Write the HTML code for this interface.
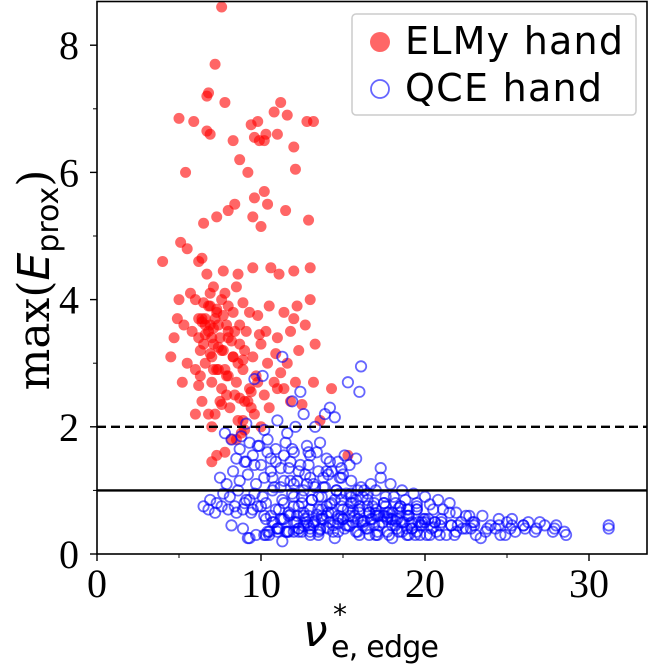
<!DOCTYPE html>
<html><head><meta charset="utf-8"><style>
html,body{margin:0;padding:0;background:#fff;}
</style></head><body>
<svg id="chart" width="650" height="664" xmlns="http://www.w3.org/2000/svg" style="position:absolute;left:0;top:0">
<g id="marks"></g>
<g id="axes"></g>
</svg>
<script>
const xTicks=[0,10,20,30];
const yTicks=[0,2,4,6,8];
const hLines=[{y:2,dash:true},{y:1,dash:false}];
const elmyX=[7.6,7.2,6.8,6.7,7.8,5.0,5.9,6.9,6.7,8.3,9.4,9.8,10.3,10.8,11.0,11.2,11.6,12.8,13.2,12.0,9.6,9.9,10.2,8.7,9.2,12.1,5.4,10.2,11.5,8.4,8.0,9.5,10.0,7.3,6.5,12.9,9.6,10.4,4.0,5.1,5.5,6.2,6.4,6.7,7.7,8.6,9.5,10.6,11.1,12.0,13.0,5.7,6.0,6.5,6.9,7.3,7.6,8.0,8.3,8.9,9.3,9.8,10.5,11.4,12.0,12.7,4.7,5.3,5.8,6.2,6.5,6.8,7.1,7.4,7.7,8.0,8.3,8.7,9.1,9.5,10.0,10.4,11.0,11.6,12.3,13.3,5.5,6.0,6.3,6.6,7.0,7.3,7.6,8.0,8.5,8.9,9.3,9.7,10.2,10.8,11.4,12.1,13.2,14.3,5.2,6.4,6.8,7.2,7.6,8.1,8.6,9.0,9.6,10.5,11.8,6.0,7.0,8.2,7.3,7.0,8.8,13.6,15.3,6.9,7.2,7.5,7.9,8.4,6.6,7.0,6.3,7.8,8.6,9.0,12.2,13.0,11.8,5.0,4.9,4.5,6.6,7.1,7.4,6.2,8.2,6.9,7.7,8.9,9.9,10.9,6.4,7.9,8.7,9.4,11.2,12.5,6.2,6.6,7.0,7.3,7.6,8.0,8.3,8.7,6.8,7.4,7.9,8.4,9.2,9.8,10.3,6.4,7.1,7.8,8.5,6.9,7.5,8.9,9.4,10.0,11.0,7.1,8.5,7.8,9.0];
const elmyY=[8.6,7.7,7.25,7.2,7.1,6.85,6.8,6.6,6.65,6.5,6.75,6.8,6.6,6.95,6.6,7.1,6.9,6.8,6.8,6.4,6.55,6.5,6.5,6.2,6.0,6.05,6.0,5.7,5.4,5.5,5.4,5.3,5.15,5.3,5.2,5.25,5.6,5.5,4.6,4.9,4.8,4.6,4.65,4.4,4.45,4.4,4.5,4.5,4.4,4.45,4.5,4.1,4.0,3.95,3.9,3.85,4.0,3.9,3.8,3.95,3.8,3.75,3.9,3.8,3.7,3.6,3.4,3.6,3.5,3.4,3.3,3.5,3.3,3.6,3.2,3.4,3.1,3.3,3.5,3.1,3.3,3.0,3.4,3.0,3.2,3.3,3.0,2.9,2.8,3.0,2.7,2.9,2.6,2.8,2.7,2.9,2.6,2.8,2.5,2.7,2.6,2.7,2.7,2.6,2.7,2.4,2.2,2.2,2.35,2.3,2.1,2.4,2.2,2.3,2.4,2.2,2.0,1.8,1.55,1.45,1.9,2.1,1.55,3.6,3.7,3.4,3.6,3.5,3.7,3.1,3.2,2.9,3.0,3.2,3.9,4.0,3.5,4.0,3.7,3.1,3.45,3.55,3.25,3.7,3.35,3.15,3.75,3.05,3.45,3.15,3.65,2.5,2.45,2.55,2.85,2.35,2.65,3.6,3.4,3.8,3.2,3.5,3.1,3.6,3.9,2.9,2.8,2.5,2.4,2.7,3.5,3.7,4.2,4.1,4.2,4.1,2.4,2.1,2.3,2.0,2.6,2.9,1.8,1.6,1.95,1.7];
const qceX=[16.1,15.3,16.0,14.2,14.5,12.4,11.3,9.6,10.1,11.9,13.3,15.1,15.8,17.3,9.1,10.2,11.0,12.6,13.6,12.9,8.8,9.3,9.8,10.4,10.9,11.5,12.0,12.8,13.4,14.0,14.7,15.4,8.5,9.0,9.5,10.0,10.6,11.2,11.8,12.3,12.9,13.5,14.1,14.8,7.5,7.9,8.3,8.7,9.2,9.7,10.2,10.8,11.4,12.0,12.6,13.2,13.9,14.6,15.5,16.3,6.5,6.9,7.3,7.7,8.1,8.6,9.1,9.6,10.1,10.7,11.3,11.9,12.5,13.1,13.7,14.3,14.9,15.6,16.2,16.9,17.6,18.2,18.9,19.5,6.8,7.2,7.6,8.0,8.5,9.0,9.5,10.0,10.6,11.1,11.7,12.3,12.9,13.5,14.1,14.7,15.3,15.9,16.6,17.2,17.9,18.5,19.2,19.9,20.6,10.3,10.8,11.4,12.0,12.6,13.2,13.8,14.4,15.0,15.6,16.2,16.8,17.4,18.0,18.6,19.2,19.8,20.4,21.0,21.6,22.2,22.8,10.5,11.1,11.7,12.3,12.9,13.5,14.1,14.7,15.3,15.9,16.5,17.1,17.7,18.3,18.9,19.5,20.1,20.7,21.3,21.9,22.5,23.1,23.7,24.3,24.9,25.5,26.1,26.7,27.3,27.9,28.5,11.0,12.0,13.0,14.0,15.0,16.0,17.0,18.0,19.0,20.0,21.0,22.0,23.0,24.0,25.0,26.0,27.0,28.0,31.2,31.2,12.5,13.5,14.5,15.5,16.5,17.5,18.5,19.5,20.5,21.5,22.5,23.5,24.5,25.3,26.3,22.9,25.3,20.6,19.0,17.8,16.8,15.8,14.8,13.8,12.8,11.8,13.0,14.0,15.0,16.0,17.0,18.0,19.0,9.3,10.3,11.3,8.2,8.9,11.6,12.2,13.7,16.6,18.4,19.7,20.9,21.8,23.4,24.6,27.8,28.6,
10.5,11.0,11.5,12.0,12.5,13.0,13.5,14.0,14.5,15.0,15.5,16.0,16.5,17.0,17.5,18.0,18.5,19.0,19.5,20.0,10.2,10.7,11.2,11.7,12.2,12.7,13.2,13.7,14.2,14.7,15.2,15.7,16.2,16.7,17.2,17.7,18.2,18.7,19.2,19.7,10.4,11.0,11.6,12.3,13.0,13.6,14.4,15.1,15.8,16.4,17.1,17.8,18.6,19.4,20.3,9.2,9.7,10.2,10.7,11.2,11.7,12.2,12.7,13.3,13.8,14.3,14.9,15.5,16.1,16.7,17.3,17.9,18.6,19.3,20.0,20.8,21.5,8.4,8.9,9.4,9.9,10.4,10.9,11.4,11.9,12.4,13.0,14.2,14.9,9.1,9.6,10.6,11.6,12.1,13.9,7.8,8.2,8.7,9.3,9.8,10.3,10.9,11.4,12.0,12.6,13.1,13.7,14.3,14.9,15.4,16.0,16.6,17.1,17.7,18.3,18.9,19.6,20.2,20.9,21.6,22.3,23.0,23.8,24.5,25.2,26.0,26.8,12.3,13.0,13.6,14.6,15.2,15.9,16.5,17.0,17.6,18.1,18.8,19.5,20.3,21.1,21.9,22.7,
11.3,12.1,12.8,13.4,14.2,14.9,15.6,16.3,17.0,17.7,18.4,19.1,11.8,12.6,13.3,14.0,14.7,15.4,16.1,16.9,17.5,18.2,18.9,19.8,20.5];
const qceY=[2.95,2.7,2.55,2.3,2.15,2.55,3.1,2.75,2.8,2.4,2.0,1.55,1.5,1.35,2.05,1.95,2.1,2.2,1.75,1.6,1.85,1.75,1.7,1.8,1.65,1.75,1.6,1.7,1.6,1.5,1.45,1.4,1.5,1.45,1.55,1.4,1.5,1.35,1.45,1.3,1.4,1.3,1.25,1.2,1.2,1.1,1.3,1.15,1.25,1.1,1.2,1.05,1.15,1.1,1.0,1.1,1.05,1.0,0.95,1.0,0.75,0.85,0.8,0.95,0.9,1.0,0.85,0.95,0.9,1.0,0.85,0.95,0.9,0.85,0.9,0.8,0.85,0.8,0.9,0.8,0.75,0.8,0.7,0.75,0.7,0.65,0.75,0.7,0.65,0.8,0.7,0.75,0.6,0.7,0.65,0.75,0.6,0.7,0.65,0.6,0.7,0.55,0.65,0.6,0.55,0.65,0.5,0.55,0.5,0.55,0.5,0.55,0.5,0.6,0.5,0.55,0.45,0.55,0.5,0.45,0.55,0.5,0.45,0.5,0.4,0.45,0.4,0.5,0.45,0.5,0.4,0.35,0.4,0.35,0.4,0.45,0.35,0.4,0.35,0.45,0.35,0.4,0.3,0.35,0.4,0.3,0.35,0.3,0.35,0.3,0.35,0.4,0.3,0.35,0.4,0.3,0.35,0.4,0.35,0.45,0.4,0.35,0.4,0.35,0.3,0.6,0.55,0.65,0.6,0.55,0.6,0.5,0.55,0.45,0.5,0.45,0.5,0.45,0.5,0.45,0.4,0.45,0.35,0.3,0.25,0.8,0.75,0.8,0.75,0.7,0.7,0.65,0.6,0.6,0.55,0.55,0.5,0.5,0.45,0.5,0.7,0.65,0.75,0.85,0.95,1.05,1.1,1.15,1.2,1.3,1.25,0.3,0.3,0.25,0.3,0.25,0.3,0.2,0.45,0.4,0.35,0.6,0.55,0.3,0.35,0.3,0.3,0.3,0.25,0.3,0.35,0.3,0.3,0.35,0.35,
0.9,0.8,0.7,0.9,0.75,0.85,0.7,0.9,0.75,0.85,0.7,0.8,0.65,0.75,0.6,0.7,0.55,0.6,0.5,0.55,0.6,0.5,0.55,0.45,0.6,0.5,0.55,0.45,0.6,0.5,0.55,0.45,0.55,0.45,0.5,0.4,0.45,0.35,0.4,0.35,0.4,0.35,0.4,0.35,0.4,0.35,0.4,0.35,0.3,0.35,0.3,0.3,0.25,0.3,0.3,1.2,1.05,1.35,1.15,1.25,1.05,1.2,1.3,1.2,1.15,1.05,1.1,1.2,1.1,1.0,0.95,0.9,0.85,0.8,0.75,0.7,0.65,1.7,1.6,1.45,1.55,1.65,1.4,1.55,1.45,1.35,1.45,1.4,1.3,1.9,2.0,2.2,1.9,1.8,1.65,0.85,0.75,0.8,0.7,0.8,0.75,0.65,0.85,0.7,0.65,0.75,0.6,0.7,0.65,0.6,0.65,0.55,0.6,0.5,0.55,0.45,0.45,0.4,0.45,0.4,0.45,0.4,0.45,0.4,0.35,0.4,0.38,1.0,0.95,1.0,0.95,1.0,0.9,0.9,0.85,0.8,0.78,0.7,0.65,0.6,0.55,0.5,0.5,
0.62,0.78,0.58,0.68,0.52,0.64,0.58,0.72,0.48,0.62,0.44,0.52,0.42,0.48,0.44,0.52,0.46,0.6,0.52,0.4,0.5,0.42,0.48,0.38,0.42];
const X0=97,XS=16.4,Y0=554,YS=63.6;
const sx=v=>X0+v*XS, sy=v=>Y0-v*YS;
const NS='http://www.w3.org/2000/svg';
const marks=document.getElementById('marks'), axes=document.getElementById('axes');
function mk(tag,attrs,parent){const e=document.createElementNS(NS,tag);for(const k in attrs)e.setAttribute(k,attrs[k]);parent.appendChild(e);return e;}
for(let i=0;i<elmyX.length;i++){
 const c=mk('circle',{cx:sx(elmyX[i]),cy:sy(elmyY[i]),r:5.5,fill:'#ff0000','fill-opacity':0.6},marks);
 
 
}
for(let i=0;i<qceX.length;i++){
 const c=mk('circle',{cx:sx(qceX[i]),cy:sy(qceY[i]),r:5.2,fill:'none',stroke:'#0000ff','stroke-opacity':0.6,'stroke-width':1.8},marks);
 
 
}
hLines.forEach(h=>{
 const l=mk('line',{x1:X0,x2:647,y1:sy(h.y),y2:sy(h.y),stroke:'#000','stroke-width':2.4},axes);
 if(h.dash)l.setAttribute('stroke-dasharray','9,5');
 
 
});
const frame=mk('rect',{x:X0,y:1.5,width:647-X0,height:Y0-1.5,fill:'none',stroke:'#000','stroke-width':1.6},axes);


xTicks.forEach(t=>{
 mk('line',{x1:sx(t),x2:sx(t),y1:Y0,y2:Y0+7,stroke:'#000','stroke-width':1.4},axes);
 const tx=mk('text',{x:sx(t),y:Y0+43,'font-size':40,'text-anchor':'middle','font-family':'Liberation Serif,serif'},axes);tx.textContent=t;
 
 
});
for(let t=5;t<33;t+=10)mk('line',{x1:sx(t),x2:sx(t),y1:Y0,y2:Y0+4,stroke:'#000','stroke-width':1},axes);
yTicks.forEach(t=>{
 mk('line',{x1:X0-7,x2:X0,y1:sy(t),y2:sy(t),stroke:'#000','stroke-width':1.4},axes);
 const tx=mk('text',{x:X0-18,y:sy(t)+14,'font-size':40,'text-anchor':'end','font-family':'Liberation Serif,serif'},axes);tx.textContent=t;
 
 
});
for(let t=1;t<9;t+=2)mk('line',{x1:X0-4,x2:X0,y1:sy(t),y2:sy(t),stroke:'#000','stroke-width':1},axes);
</script>
<svg style="position:absolute;left:0;top:0" width="650" height="664" xmlns="http://www.w3.org/2000/svg">
<g>
<rect x="352" y="14" width="284" height="101" rx="4" fill="#fff" fill-opacity="0.85" stroke="#ccc" stroke-width="1.5"/>
<circle cx="380" cy="42" r="10" fill="#ff0000" fill-opacity="0.6"/>
<text x="405" y="54" font-size="38" textLength="218" font-family="DejaVu Sans,sans-serif">ELMy hand</text>
<circle cx="380" cy="89" r="9" fill="none" stroke="#0000ff" stroke-opacity="0.6" stroke-width="1.8"/>
<text x="405" y="101" font-size="38" textLength="197" font-family="DejaVu Sans,sans-serif">QCE hand</text>
</g>
<text x="303" y="646" font-size="44" font-style="italic" font-family="DejaVu Sans,sans-serif">ν</text>
<text x="333" y="624" font-size="28" font-family="DejaVu Sans,sans-serif">*</text>
<text x="331" y="657" font-size="30" textLength="108" font-family="DejaVu Sans,sans-serif">e, edge</text>
<g transform="translate(49,280) rotate(-90)">
<text x="0" y="0" text-anchor="middle" font-size="44" font-family="DejaVu Serif,serif">max(<tspan font-style="italic" font-family="DejaVu Sans,sans-serif">E</tspan><tspan font-size="30" dy="9" font-family="DejaVu Sans,sans-serif">prox</tspan><tspan dy="-9">)</tspan></text>
</g>
</svg>
</body></html>
